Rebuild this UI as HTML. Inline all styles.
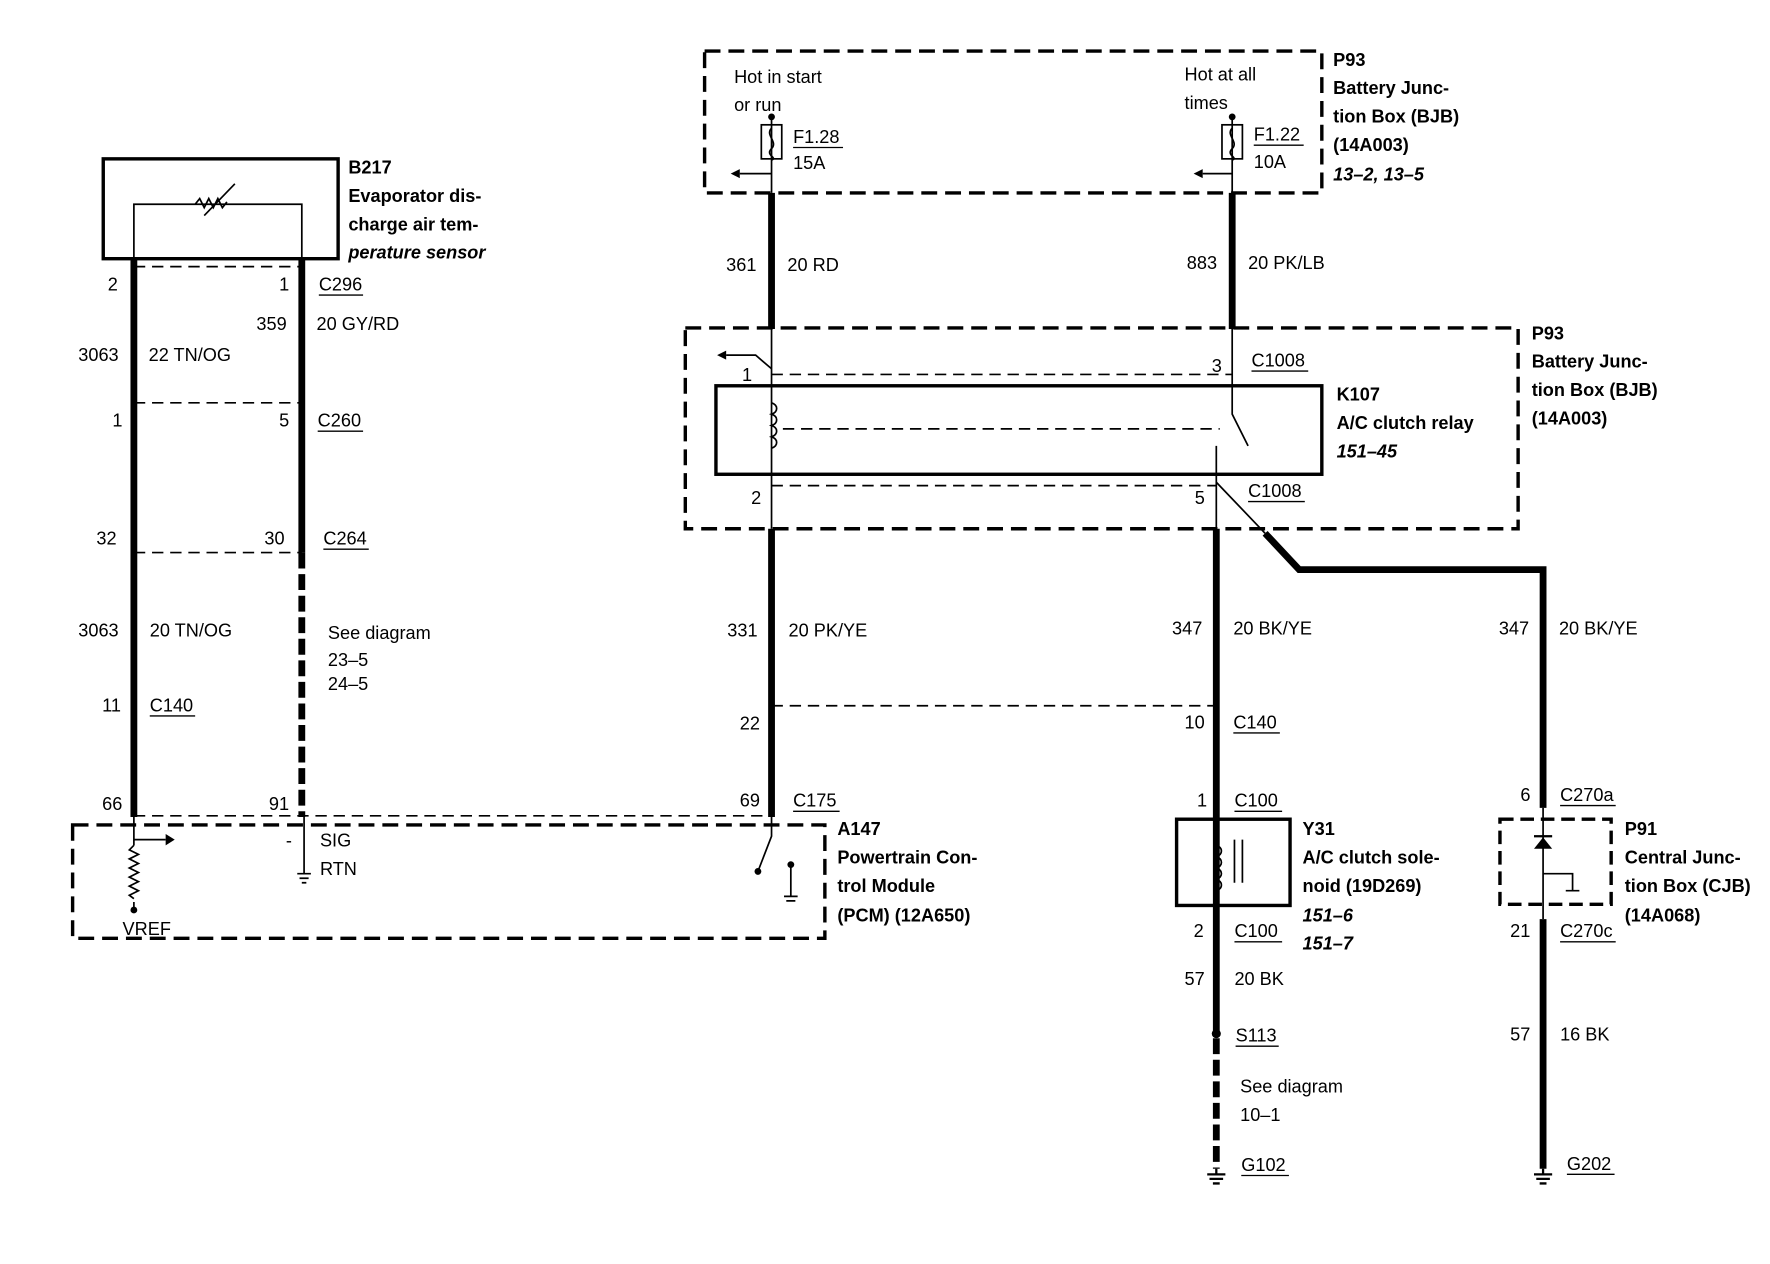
<!DOCTYPE html>
<html><head><meta charset="utf-8"><style>
html,body{margin:0;padding:0;background:#fff}
svg{display:block}
text{font-family:"Liberation Sans",Arial,sans-serif;font-size:16px;fill:#000}
.b{font-weight:bold}
.i{font-style:italic;font-weight:bold}
</style></head><body>
<svg width="1770" height="1264" viewBox="0 0 1560 1114" preserveAspectRatio="none" xmlns="http://www.w3.org/2000/svg">
<g fill="none" stroke="#000">
<!-- B217 -->
<rect x="91" y="140" width="207" height="88" stroke-width="3"/>
<path d="M118 228 V180 H266 V228" stroke-width="1.5"/>
<path d="M172 180 l4 -5 l4 8 l4 -8 l4 8 l4 -8 l4 8 l4 -5" stroke-width="1.5"/>
<path d="M180 190 L207 162" stroke-width="1.5"/>
<!-- left thick wires -->
<path d="M118 228 V720" stroke-width="6"/>
<path d="M266 228 V487" stroke-width="6"/>
<path d="M266 487 V720" stroke-width="6" stroke-dasharray="14 5"/>
<!-- dashed connectors -->
<g stroke-width="1.5" stroke-dasharray="10 6">
<path d="M118 235 H266"/><path d="M118 355 H266"/><path d="M118 487 H266"/>
<path d="M118 719 H680"/>
<path d="M680 330 H1086"/><path d="M690 378 H1075"/><path d="M680 428 H1072"/>
<path d="M680 622 H1072"/>
</g>
<!-- PCM box -->
<rect x="64" y="727" width="663" height="100" stroke-width="3" stroke-dasharray="14 7"/>
<path d="M118 720 V745 M118 795 V802" stroke-width="1.5"/>
<path d="M118 745 l-4 4 l8 4 l-8 4 l8 4 l-8 4 l8 4 l-8 4 l8 4 l-8 4 l8 4 l-8 4 l4 3" stroke-width="1.5"/>
<path d="M118 740 H146" stroke-width="1.5"/>
<path d="M268 720 V770 M262 770 H274 M264 774 H272 M266 778 H270" stroke-width="1.5"/>
<path d="M680 720 V737 L668 768 M697 762 V790 M691 790 H703 M693 794 H701" stroke-width="1.5"/>
<!-- top P93 -->
<rect x="621" y="45" width="544" height="125" stroke-width="3" stroke-dasharray="14 7"/>
<path d="M680 103 V170 M1086 103 V170" stroke-width="1.5"/>
<rect x="671" y="110" width="18" height="30" stroke-width="1.5"/>
<rect x="1077" y="110" width="18" height="30" stroke-width="1.5"/>
<path d="M680 113 c-6 6 6 12 0 18 c-6 6 6 8 0 10 M1086 113 c-6 6 6 12 0 18 c-6 6 6 8 0 10" stroke-width="1.5"/>
<path d="M680 153 H652 M1086 153 H1060" stroke-width="1.5"/>
<path d="M680 170 V290 M1086 170 V290" stroke-width="6"/>
<!-- P93 relay box -->
<rect x="604" y="289" width="734" height="177" stroke-width="3" stroke-dasharray="14 7"/>
<path d="M680 290 V466 M1086 290 V365 L1100 393 M1072 393 V466" stroke-width="1.5"/>
<path d="M680 325 L666 313 H640" stroke-width="1.5"/>
<rect x="631" y="340" width="534" height="78" stroke-width="3"/>
<path d="M680 355 c6 2 6 8 0 10 c6 2 6 8 0 10 c6 2 6 8 0 10 c6 2 6 8 0 10" stroke-width="1.5"/>
<path d="M1072 425 L1115 470" stroke-width="1.5"/>
<path d="M1115 470 L1145 502 H1360 V712" stroke-width="6"/>
<path d="M680 466 V720" stroke-width="6"/>
<path d="M1072 466 V910" stroke-width="6"/>
<path d="M1072 915 V1030" stroke-width="6" stroke-dasharray="14 5"/>
<!-- Y31 -->
<rect x="1037" y="722" width="100" height="76" stroke-width="3"/>
<path d="M1072 745 c6 2 6 8 0 10 c6 2 6 8 0 10 c6 2 6 8 0 10 c6 2 6 8 0 10 M1088 740 V778 M1095 740 V778" stroke-width="1.5"/>
<path d="M1072 1030 V1035 M1064 1035 H1080 M1066 1039 H1078 M1069 1043 H1075" stroke-width="2"/>
<!-- P91 -->
<rect x="1322" y="722" width="98" height="75" stroke-width="3" stroke-dasharray="12 6"/>
<path d="M1360 712 V810" stroke-width="1.5"/>
<path d="M1360 810 V1030" stroke-width="6"/>
<path d="M1360 770 H1386 V785 M1380 785 H1392" stroke-width="1.5"/>
<path d="M1360 1030 V1035 M1352 1035 H1368 M1354 1039 H1366 M1357 1043 H1363" stroke-width="2"/>
</g>
<g fill="#000">
<polygon points="1352,748 1368,748 1360,738"/><rect x="1352" y="736" width="16" height="2"/>
<polygon points="146,735 146,745 154,740"/>
<polygon points="640,309 640,317 632,313"/>
<polygon points="652,149 652,157 644,153"/>
<polygon points="1060,149 1060,157 1052,153"/>
<circle cx="680" cy="103" r="3"/><circle cx="1086" cy="103" r="3"/>
<circle cx="1072" cy="911" r="4"/><circle cx="118" cy="802" r="3"/>
<circle cx="697" cy="762" r="3"/><circle cx="668" cy="768" r="3"/>
</g>
<!-- text -->
<text x="307" y="153" class="b">B217</text>
<text x="307" y="178" class="b">Evaporator dis-</text>
<text x="307" y="203" class="b">charge air tem-</text>
<text x="307" y="228" class="i">perature sensor</text>
<text x="95" y="256">2</text><text x="246" y="256">1</text><text x="281" y="256">C296</text>
<text x="226" y="291">359</text><text x="279" y="291">20 GY/RD</text>
<text x="69" y="318">3063</text><text x="131" y="318">22 TN/OG</text>
<text x="99" y="376">1</text><text x="246" y="376">5</text><text x="280" y="376">C260</text>
<text x="85" y="480">32</text><text x="233" y="480">30</text><text x="285" y="480">C264</text>
<text x="69" y="561">3063</text><text x="132" y="561">20 TN/OG</text>
<text x="289" y="563">See diagram</text><text x="289" y="587">23–5</text><text x="289" y="608">24–5</text>
<text x="90" y="627">11</text><text x="132" y="627">C140</text>
<text x="90" y="714">66</text><text x="237" y="714">91</text>
<text x="252" y="746">-</text><text x="282" y="746">SIG</text><text x="282" y="771">RTN</text>
<text x="108" y="824">VREF</text>
<text x="738" y="736" class="b">A147</text>
<text x="738" y="761" class="b">Powertrain Con-</text>
<text x="738" y="786" class="b">trol Module</text>
<text x="738" y="812" class="b">(PCM) (12A650)</text>
<text x="647" y="73">Hot in start</text><text x="647" y="98">or run</text>
<text x="699" y="126">F1.28</text><text x="699" y="149">15A</text>
<text x="1044" y="71">Hot at all</text><text x="1044" y="96">times</text>
<text x="1105" y="124">F1.22</text><text x="1105" y="148">10A</text>
<text x="1175" y="58" class="b">P93</text>
<text x="1175" y="83" class="b">Battery Junc-</text>
<text x="1175" y="108" class="b">tion Box (BJB)</text>
<text x="1175" y="133" class="b">(14A003)</text>
<text x="1175" y="159" class="i">13–2, 13–5</text>
<text x="640" y="239">361</text><text x="694" y="239">20 RD</text>
<text x="1046" y="237">883</text><text x="1100" y="237">20 PK/LB</text>
<text x="654" y="336">1</text><text x="1068" y="328">3</text><text x="1103" y="323">C1008</text>
<text x="1178" y="353" class="b">K107</text>
<text x="1178" y="378" class="b">A/C clutch relay</text>
<text x="1178" y="403" class="i">151–45</text>
<text x="1350" y="299" class="b">P93</text>
<text x="1350" y="324" class="b">Battery Junc-</text>
<text x="1350" y="349" class="b">tion Box (BJB)</text>
<text x="1350" y="374" class="b">(14A003)</text>
<text x="662" y="444">2</text><text x="1053" y="444">5</text><text x="1100" y="438">C1008</text>
<text x="641" y="561">331</text><text x="695" y="561">20 PK/YE</text>
<text x="1033" y="559">347</text><text x="1087" y="559">20 BK/YE</text>
<text x="1321" y="559">347</text><text x="1374" y="559">20 BK/YE</text>
<text x="652" y="643">22</text><text x="1044" y="642">10</text><text x="1087" y="642">C140</text>
<text x="652" y="711">69</text><text x="699" y="711">C175</text>
<text x="1055" y="711">1</text><text x="1088" y="711">C100</text>
<text x="1148" y="736" class="b">Y31</text>
<text x="1148" y="761" class="b">A/C clutch sole-</text>
<text x="1148" y="786" class="b">noid (19D269)</text>
<text x="1148" y="812" class="i">151–6</text>
<text x="1148" y="837" class="i">151–7</text>
<text x="1052" y="826">2</text><text x="1088" y="826">C100</text>
<text x="1044" y="868">57</text><text x="1088" y="868">20 BK</text>
<text x="1089" y="918">S113</text>
<text x="1093" y="963">See diagram</text><text x="1093" y="988">10–1</text>
<text x="1094" y="1032">G102</text>
<text x="1340" y="706">6</text><text x="1375" y="706">C270a</text>
<text x="1432" y="736" class="b">P91</text>
<text x="1432" y="761" class="b">Central Junc-</text>
<text x="1432" y="786" class="b">tion Box (CJB)</text>
<text x="1432" y="812" class="b">(14A068)</text>
<text x="1331" y="826">21</text><text x="1375" y="826">C270c</text>
<text x="1331" y="917">57</text><text x="1375" y="917">16 BK</text>
<text x="1381" y="1031">G202</text>
<g stroke="#000" stroke-width="1.2">
<path d="M281 260 H320 M280 380 H320 M285 484 H325 M132 631 H172 M699 130 H743 M1105 128 H1149 M699 715 H740 M1103 327 H1153 M1100 442 H1150 M1087 646 H1128 M1088 715 H1130 M1088 830 H1130 M1089 922 H1127 M1094 1036 H1136 M1375 710 H1424 M1375 830 H1424 M1381 1035 H1423"/>
</g>
</svg>
</body></html>
